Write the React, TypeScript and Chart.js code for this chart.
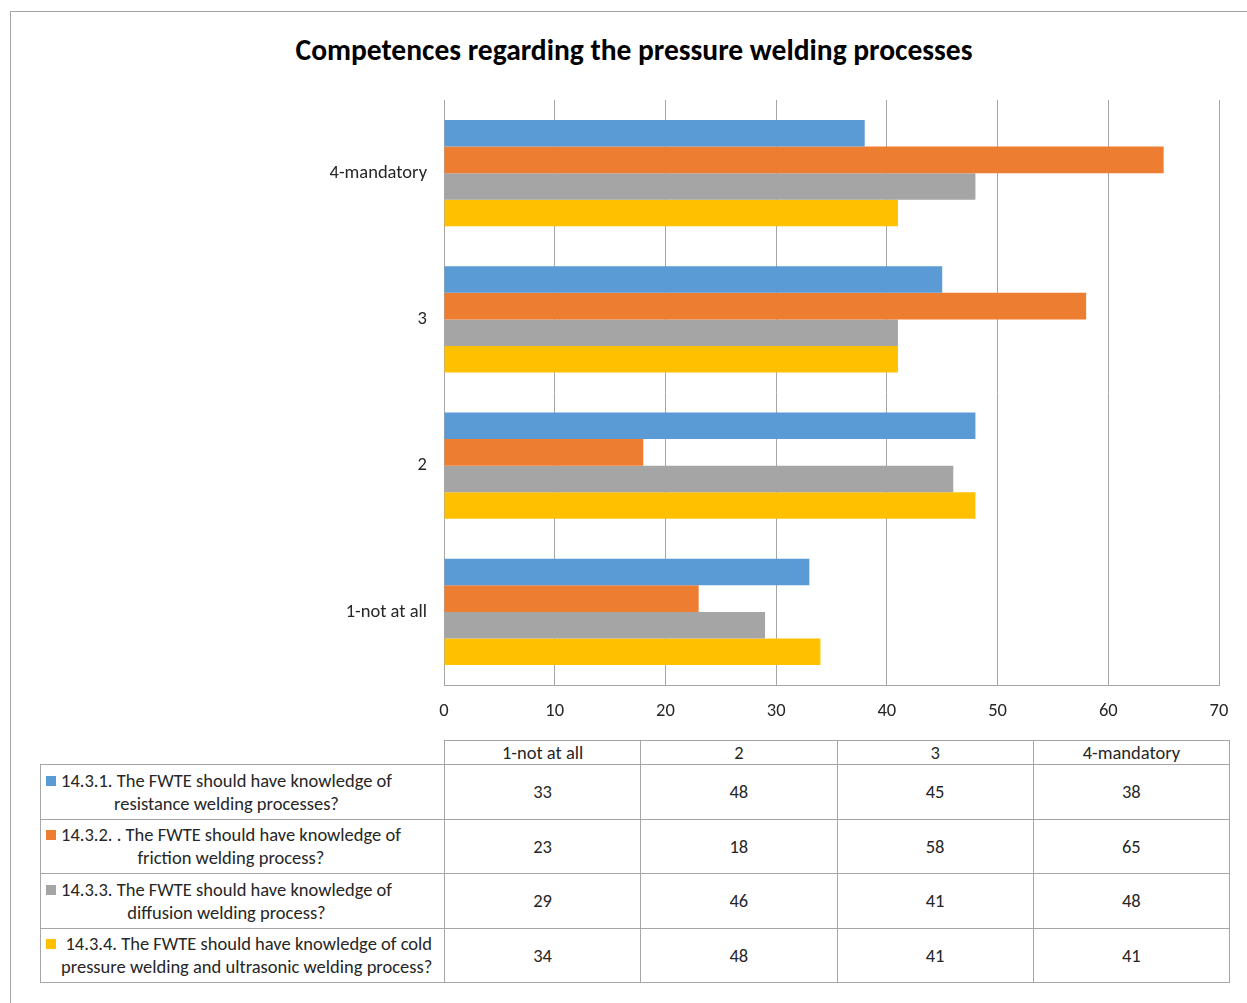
import React, { useEffect, useRef } from "react";
import { Chart, registerables } from "chart.js";

Chart.register(...registerables);

// categories in table order (bottom to top on the chart)
const categories = ["1-not at all", "2", "3", "4-mandatory"];
const seriesNames = [
  "14.3.1. The FWTE should have knowledge of|resistance welding processes?",
  "14.3.2. . The FWTE should have knowledge of|friction welding process?",
  "14.3.3. The FWTE should have knowledge of|diffusion welding process?",
  " 14.3.4. The FWTE should have knowledge of cold|pressure welding and ultrasonic welding process?",
];
const resistanceValues = [33, 48, 45, 38];
const frictionValues = [23, 18, 58, 65];
const diffusionValues = [29, 46, 41, 48];
const coldValues = [34, 48, 41, 41];
const seriesValues = [resistanceValues, frictionValues, diffusionValues, coldValues];
const seriesColors = ["#5B9BD5", "#ED7D31", "#A5A5A5", "#FFC000"];
const xMin = 0;
const xMax = 70;
const xStep = 10;
const title = "Competences regarding the pressure welding processes";

const FONT = "Carlito, Calibri, Lato, 'Noto Sans', sans-serif";
const GRID = "#a6a6a6";
const TEXT = "#262626";
const FS = 18.5;

export default function App() {
  const canvasRef = useRef<HTMLCanvasElement | null>(null);

  useEffect(() => {
    const canvas = canvasRef.current;
    if (!canvas) return;
    const labels = [...categories].reverse();
    const chart = new Chart(canvas, {
      type: "bar",
      data: {
        labels,
        datasets: seriesNames.map((name, i) => ({
          label: name.replace("|", " ").trim(),
          data: [...seriesValues[i]].reverse(),
          backgroundColor: seriesColors[i],
          borderWidth: 0,
          categoryPercentage: 0.725,
          barPercentage: 1,
        })),
      },
      options: {
        indexAxis: "y",
        responsive: false,
        animation: false,
        maintainAspectRatio: false,
        layout: { padding: { top: 100, right: 28, left: 0, bottom: 0 } },
        plugins: {
          legend: { display: false },
          title: { display: false },
          tooltip: { enabled: false },
        },
        scales: {
          x: {
            min: xMin,
            max: xMax,
            ticks: {
              stepSize: xStep,
              color: TEXT,
              font: { family: FONT, size: FS },
              padding: 15,
            },
            grid: { color: GRID, drawTicks: false, lineWidth: 1 },
            border: { display: true, color: GRID },
            afterFit: (s: any) => {
              s.height = 45;
            },
          },
          y: {
            ticks: {
              color: TEXT,
              font: { family: FONT, size: FS },
              padding: 17,
            },
            grid: { display: false, drawTicks: false },
            border: { display: true, color: GRID },
            afterFit: (s: any) => {
              s.width = 444;
            },
          },
        },
      },
    });
    return () => chart.destroy();
  }, []);

  const cellBorder = `1px solid ${GRID}`;
  const colW = 196.25;

  return (
    <div
      style={{
        position: "absolute",
        left: 0,
        top: 0,
        width: 1247,
        height: 1003,
        overflow: "hidden",
        background: "#fff",
        fontFamily: FONT,
        color: TEXT,
      }}
    >
      <div
        style={{
          position: "absolute",
          left: 10,
          top: 11,
          width: 1260,
          height: 1010,
          borderLeft: cellBorder,
          borderTop: cellBorder,
        }}
      />
      <div
        style={{
          position: "absolute",
          left: 134,
          width: 1000,
          top: 31,
          textAlign: "center",
          fontWeight: "bold",
          fontSize: 29.5,
          color: "#000",
          lineHeight: "38px",
          whiteSpace: "nowrap",
        }}
      >
        {title}
      </div>
      <canvas
        ref={canvasRef}
        width={1247}
        height={730}
        style={{ position: "absolute", left: 0, top: 0, width: 1247, height: 730 }}
      />
      <table
        style={{
          position: "absolute",
          left: 40,
          top: 740,
          borderCollapse: "collapse",
          tableLayout: "fixed",
          width: 404 + colW * 4,
          fontSize: FS,
          color: TEXT,
        }}
      >
        <colgroup>
          <col style={{ width: 404 }} />
          {categories.map((c) => (
            <col key={c} style={{ width: colW }} />
          ))}
        </colgroup>
        <tbody>
          <tr style={{ height: 24 }}>
            <td style={{ border: "none", padding: 0 }} />
            {categories.map((c) => (
              <td
                key={c}
                style={{ border: cellBorder, textAlign: "center", padding: 0, lineHeight: "22px" }}
              >
                {c}
              </td>
            ))}
          </tr>
          {seriesNames.map((name, i) => {
            const [l1, l2] = name.split("|");
            return (
              <tr key={i} style={{ height: 54.5 }}>
                <td style={{ border: cellBorder, padding: 0 }}>
                  <div style={{ display: "flex", alignItems: "flex-start", paddingLeft: 5 }}>
                    <span
                      style={{
                        display: "block",
                        width: 10,
                        height: 10,
                        flex: "0 0 auto",
                        background: seriesColors[i],
                        marginTop: 7,
                        marginRight: 5,
                      }}
                    />
                    <div
                      style={{
                        textAlign: "center",
                        lineHeight: "23px",
                        whiteSpace: "pre",
                      }}
                    >
                      {l1}
                      {"\n"}
                      {l2}
                    </div>
                  </div>
                </td>
                {seriesValues[i].map((v, j) => (
                  <td key={j} style={{ border: cellBorder, textAlign: "center", padding: 0 }}>
                    {v}
                  </td>
                ))}
              </tr>
            );
          })}
        </tbody>
      </table>
    </div>
  );
}
